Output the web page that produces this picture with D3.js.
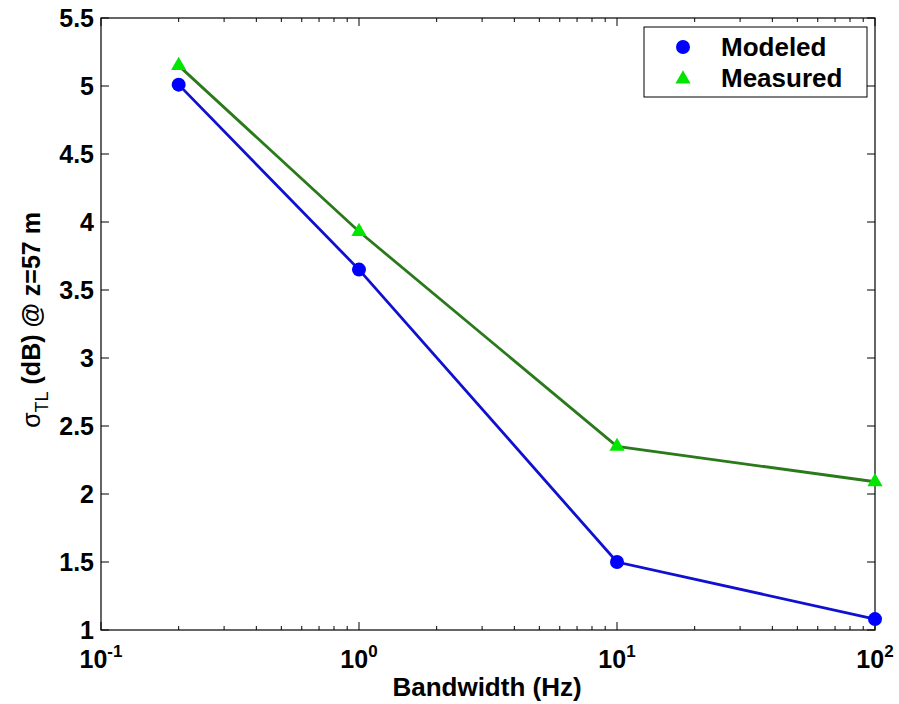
<!DOCTYPE html>
<html>
<head>
<meta charset="utf-8">
<script src="https://cdn.jsdelivr.net/npm/d3@7"></script>
<style>
  body { margin: 0; background: #fff; }
  text { font-family: "Liberation Sans", Arial, sans-serif; font-weight: bold; fill: #000; }
</style>
</head>
<body>
<div id="viz"></div>
<script>
// chart values
var bandwidth = [0.2, 1, 10, 100];
var modeled = [5.01, 3.65, 1.5, 1.08];
var measured = [5.15, 3.93, 2.35, 2.09];
var yTicks = [1, 1.5, 2, 2.5, 3, 3.5, 4, 4.5, 5, 5.5];
var xDecades = [-1, 0, 1, 2];
var seriesNames = ["Modeled", "Measured"];

var W = 899, H = 704;
var margin = {left: 101, right: 24, top: 18, bottom: 74};

var svg = d3.select("#viz")
    .append("svg")
    .attr("width", W)
    .attr("height", H);

var x = d3.scaleLog().domain([0.1, 100]).range([margin.left, W - margin.right]);
var y = d3.scaleLinear().domain([1, 5.5]).range([H - margin.bottom, margin.top]);

var x0 = x.range()[0], x1 = x.range()[1], y0 = y.range()[0], y1 = y.range()[1];

// minor log ticks
var minor = [];
for (var d = -1; d < 2; d++) {
    for (var k = 2; k <= 9; k++) minor.push(k * Math.pow(10, d));
}
var axisG = svg.append("g").attr("stroke", "#000").attr("stroke-width", 1);
minor.forEach(function (v) {
    axisG.append("line").attr("x1", x(v)).attr("x2", x(v)).attr("y1", y0).attr("y2", y0 - 4);
    axisG.append("line").attr("x1", x(v)).attr("x2", x(v)).attr("y1", y1).attr("y2", y1 + 4);
});
xDecades.forEach(function (e) {
    var v = Math.pow(10, e);
    axisG.append("line").attr("x1", x(v)).attr("x2", x(v)).attr("y1", y0).attr("y2", y0 - 8);
    axisG.append("line").attr("x1", x(v)).attr("x2", x(v)).attr("y1", y1).attr("y2", y1 + 8);
});
yTicks.forEach(function (v) {
    axisG.append("line").attr("x1", x0).attr("x2", x0 + 8).attr("y1", y(v)).attr("y2", y(v));
    axisG.append("line").attr("x1", x1).attr("x2", x1 - 8).attr("y1", y(v)).attr("y2", y(v));
});
svg.append("rect")
    .attr("x", x0).attr("y", y1)
    .attr("width", x1 - x0).attr("height", y0 - y1)
    .attr("fill", "none").attr("stroke", "#000").attr("stroke-width", 1.2);

// y tick labels
svg.selectAll(".ylab").data(yTicks).enter().append("text")
    .attr("x", x0 - 7)
    .attr("y", function (v) { return y(v); })
    .attr("dy", "0.36em")
    .attr("text-anchor", "end")
    .style("font-size", "25px")
    .text(function (v) { return v; });

// x tick labels 10^n
xDecades.forEach(function (e) {
    var t = svg.append("text")
        .attr("x", x(Math.pow(10, e)))
        .attr("y", y0 + 38)
        .attr("text-anchor", "middle")
        .style("font-size", "25px");
    t.append("tspan").text("10");
    t.append("tspan").attr("dy", -11).style("font-size", "17px").text(e);
});

// axis labels
svg.append("text")
    .attr("x", (x0 + x1) / 2 - 1)
    .attr("y", 696)
    .attr("text-anchor", "middle")
    .style("font-size", "26px")
    .text("Bandwidth (Hz)");

var yl = svg.append("text")
    .attr("transform", "translate(40," + ((y0 + y1) / 2 - 4) + ") rotate(-90)")
    .attr("text-anchor", "middle")
    .style("font-size", "25px");
yl.append("tspan").style("font-weight", "normal").text("σ");
yl.append("tspan").attr("dy", 8).style("font-size", "18px").style("font-weight", "normal").text("TL");
yl.append("tspan").attr("dy", -8).text(" (dB) @ z=57 m");

// lines
var line = d3.line()
    .x(function (d) { return x(d[0]); })
    .y(function (d) { return y(d[1]); });

var modPts = bandwidth.map(function (b, i) { return [b, modeled[i]]; });
var meaPts = bandwidth.map(function (b, i) { return [b, measured[i]]; });

svg.append("path").datum(modPts).attr("d", line)
    .attr("fill", "none").attr("stroke", "#1010d0").attr("stroke-width", 2.8);
svg.append("path").datum(meaPts).attr("d", line)
    .attr("fill", "none").attr("stroke", "#2a7a1c").attr("stroke-width", 2.8);

var tri = d3.symbol().type(d3.symbolTriangle).size(100);

svg.selectAll(".mod").data(modPts).enter().append("circle")
    .attr("cx", function (d) { return x(d[0]); })
    .attr("cy", function (d) { return y(d[1]); })
    .attr("r", 7)
    .attr("fill", "#0000ff");

svg.selectAll(".mea").data(meaPts).enter().append("path")
    .attr("d", tri)
    .attr("transform", function (d) { return "translate(" + x(d[0]) + "," + y(d[1]) + ")"; })
    .attr("fill", "#00e600");

// legend
var lg = svg.append("g");
lg.append("rect")
    .attr("x", 644).attr("y", 27).attr("width", 223).attr("height", 70)
    .attr("fill", "#fff").attr("stroke", "#000").attr("stroke-width", 1);
lg.append("circle").attr("cx", 683).attr("cy", 47).attr("r", 7).attr("fill", "#0000ff");
lg.append("path").attr("d", tri).attr("transform", "translate(683,79)").attr("fill", "#00e600");
lg.selectAll(".lt").data(seriesNames).enter().append("text")
    .attr("x", 721)
    .attr("y", function (d, i) { return 47 + i * 31; })
    .attr("dy", "0.36em")
    .style("font-size", "26px")
    .text(function (d) { return d; });
</script>
</body>
</html>
